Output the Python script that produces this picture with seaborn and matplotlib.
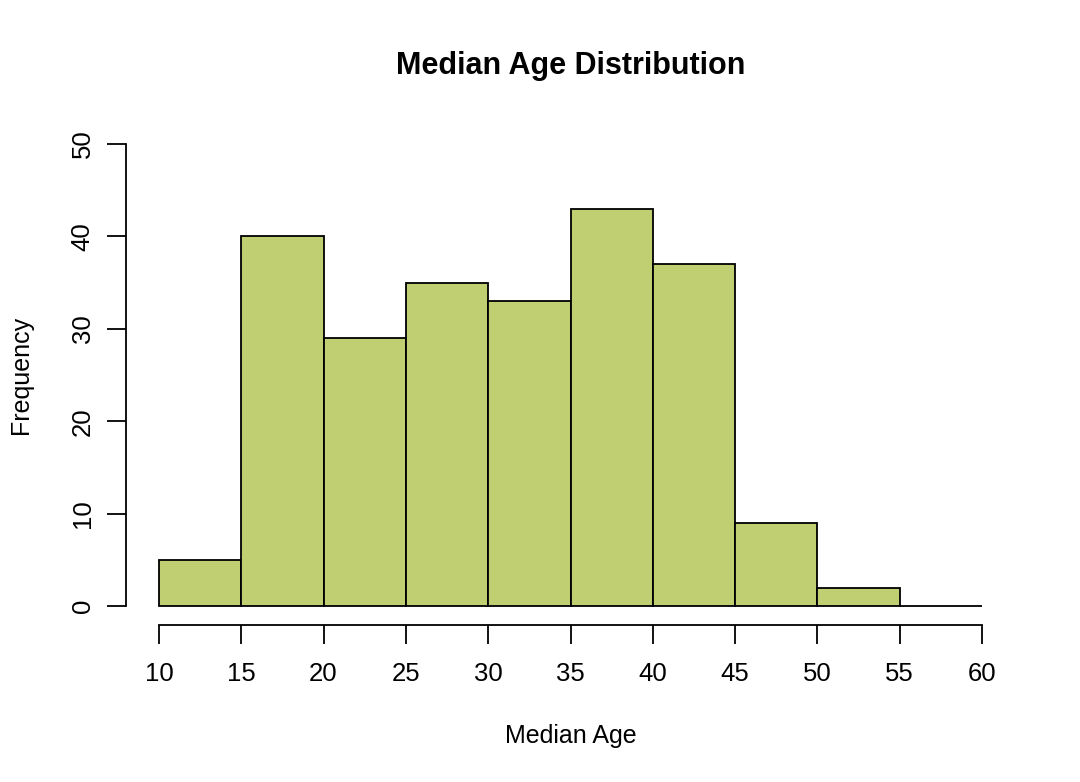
import matplotlib
matplotlib.use("Agg")
import matplotlib.pyplot as plt
import seaborn as sns
import numpy as np

bin_edges = [10, 15, 20, 25, 30, 35, 40, 45, 50, 55, 60]
counts = [5, 40, 29, 35, 33, 43, 37, 9, 2, 0]
x_ticks = [10, 15, 20, 25, 30, 35, 40, 45, 50, 55, 60]
y_ticks = [0, 10, 20, 30, 40, 50]
title = "Median Age Distribution"
xlabel = "Median Age"
ylabel = "Frequency"

sns.set_style("white")
plt.rcParams['font.family'] = ['Liberation Sans', 'DejaVu Sans']
plt.rcParams['text.color'] = 'black'
plt.rcParams['axes.labelcolor'] = 'black'
plt.rcParams['xtick.color'] = 'black'
plt.rcParams['ytick.color'] = 'black'

midpoints = [(a + b) / 2 for a, b in zip(bin_edges[:-1], bin_edges[1:])]

fig = plt.figure(figsize=(10.8, 7.82), dpi=100)
ax = fig.add_axes([126/1080, 1 - 624.5/782, 889/1080, 499/782])

sns.histplot(x=midpoints, weights=counts, bins=bin_edges, ax=ax,
             color="#C1CF73", alpha=1, edgecolor="black", linewidth=1.3)

ax.set_xlim(8, 62)
ax.set_ylim(-2, 52)
ax.set_xticks(x_ticks)
ax.set_yticks(y_ticks)
ax.set_yticklabels([str(v) for v in y_ticks], rotation=90, va='center')

for s in ['top', 'right']:
    ax.spines[s].set_visible(False)
ax.spines['left'].set_bounds(0, 50)
ax.spines['bottom'].set_bounds(10, 60)
for s in ['left', 'bottom']:
    ax.spines[s].set_linewidth(1.3)
    ax.spines[s].set_color('black')

ax.tick_params(axis='both', which='major', length=13.5, width=1.3, color='black',
               labelcolor='black', labelsize=18.5, bottom=True, left=True)
ax.tick_params(axis='x', pad=13.5)
ax.tick_params(axis='y', pad=9)
ax.grid(False)

ax.set_xlabel(xlabel, fontsize=18, labelpad=27.5, color='black')
ax.set_ylabel(ylabel, fontsize=18, labelpad=27, color='black')
ax.set_title(title, fontsize=22, fontweight='bold', pad=37, color='black')

fig.savefig("out.png", dpi=100, facecolor='white')
